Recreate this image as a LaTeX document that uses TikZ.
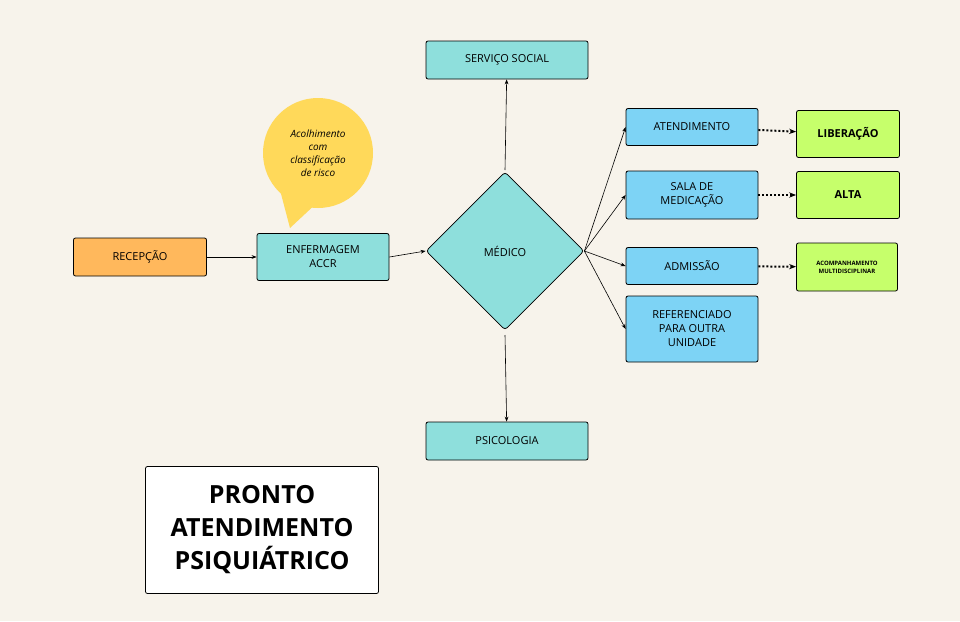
\documentclass[tikz,border=0pt]{standalone}
\usepackage{fontspec}
\setmainfont{Open Sans}
\usetikzlibrary{shapes.geometric,shapes.callouts,arrows.meta}
\definecolor{bgcol}{HTML}{F7F3EB}
\definecolor{tealcol}{HTML}{8EDFDC}
\definecolor{bluecol}{HTML}{7DD3F5}
\definecolor{orangecol}{HTML}{FFB85C}
\definecolor{greencol}{HTML}{C6FF6B}
\definecolor{yellowcol}{HTML}{FFD95A}
\tikzset{
  box/.style={draw=black,thick,rounded corners=2pt,align=center,font=\fontsize{11}{14}\selectfont,inner sep=0pt},
  greenbox/.style={box,fill=greencol,minimum width=103pt,minimum height=47pt,font=\bfseries\fontsize{11}{14}\selectfont},
  bluebox/.style={box,fill=bluecol,minimum width=132pt},
  arr/.style={-{Stealth[length=5pt]},semithick},
  dotarr/.style={-{Stealth[length=7pt]},line width=2pt,dotted}
}
\begin{document}
\begin{tikzpicture}[x=1pt,y=-1pt]
	\fill[bgcol] (0,0) rectangle (960,621);
	\useasboundingbox (0,0) rectangle (960,621);

	\fill[yellowcol] (318,153) circle (55pt);
	\fill[yellowcol] (280,190) -- (290,228) -- (320,200) -- cycle;
	\node[align=center,font=\itshape\fontsize{10}{13}\selectfont] (bubble) at (318,153) {Acolhimento\\com\\classificação\\de risco};

	\node[box,fill=orangecol,minimum width=133pt,minimum height=38pt] (rec) at (140,257) {RECEPÇÃO};
	\node[box,fill=tealcol,minimum width=132pt,minimum height=47pt] (enf) at (323,257) {ENFERMAGEM\\ACCR};
	\node[diamond,draw=black,thick,fill=tealcol,rounded corners=3pt,minimum width=158pt,minimum height=158pt,inner sep=0pt,font=\fontsize{11}{14}\selectfont] (med) at (505,251) {MÉDICO};
	\node[box,fill=tealcol,minimum width=162pt,minimum height=38pt] (soc) at (507,60) {SERVIÇO SOCIAL};
	\node[box,fill=tealcol,minimum width=162pt,minimum height=38pt] (psi) at (507,441) {PSICOLOGIA};

	\node[bluebox,minimum height=37pt] (ate) at (692,127) {ATENDIMENTO};
	\node[bluebox,minimum height=48pt] (sala) at (692,195) {SALA DE\\MEDICAÇÃO};
	\node[bluebox,minimum height=37pt] (adm) at (692,266) {ADMISSÃO};
	\node[bluebox,minimum height=66pt] (ref) at (692,329) {REFERENCIADO\\PARA OUTRA\\UNIDADE};

	\node[greenbox] (lib) at (848,134) {LIBERAÇÃO};
	\node[greenbox] (alta) at (848,195) {ALTA};
	\node[greenbox,minimum width=101pt,minimum height=48pt,font=\bfseries\fontsize{6}{8}\selectfont] (acomp) at (847,267) {ACOMPANHAMENTO\\MULTIDISCIPLINAR};

	\node[box,fill=white,minimum width=233pt,minimum height=127pt,font=\bfseries\fontsize{25}{33}\selectfont] (title) at (262,530) {PRONTO\\ATENDIMENTO\\PSIQUIÁTRICO};

	\draw[arr] (rec) -- (enf);
	\draw[arr] (enf.east) -- (med.west);
	\draw[arr] (505,170) -- (soc);
	\draw[arr] (505,335) -- (psi);
	\foreach \t in {ate,sala,adm,ref}
		\draw[arr] (med.east) -- (\t.west);
	\draw[dotarr] (ate) -- (lib);
	\draw[dotarr] (sala) -- (alta);
	\draw[dotarr] (adm) -- (acomp);
\end{tikzpicture}
\end{document}
